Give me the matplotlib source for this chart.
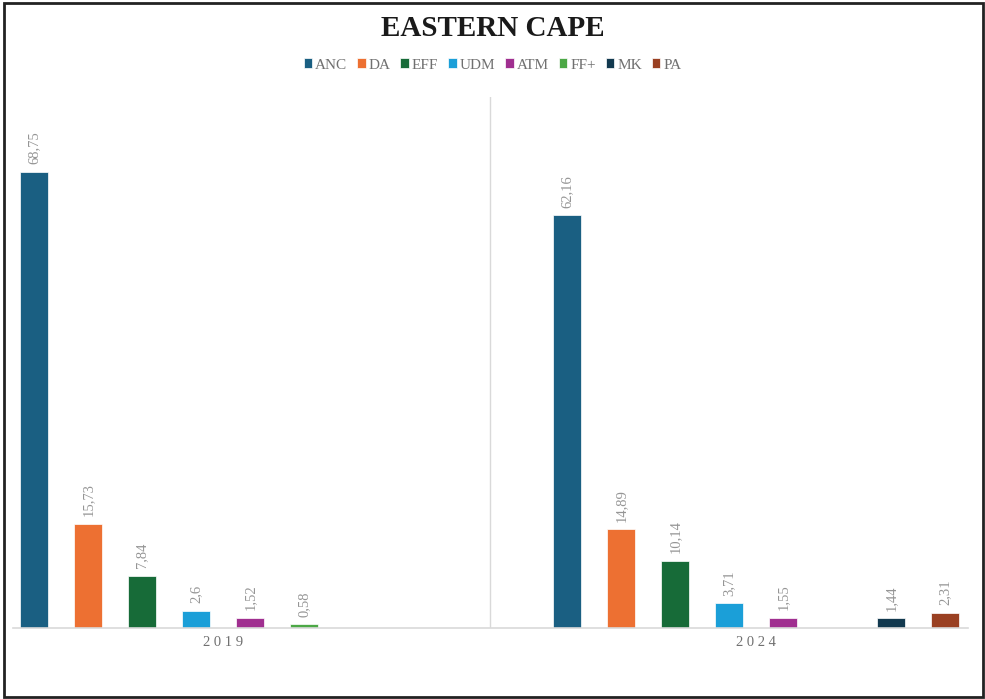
import numpy as np
import matplotlib.pyplot as plt
from matplotlib.patches import Rectangle

plt.rcParams['font.family'] = ['Liberation Serif', 'DejaVu Serif']

years = ['2019', '2024']
parties = ['ANC', 'DA', 'EFF', 'UDM', 'ATM', 'FF+', 'MK', 'PA']
colors = ['#1a5f82', '#ed7032', '#176b38', '#1b9fd8', '#a02f90', '#4ca846', '#12394f', '#9a4022']
# None = party not on the ballot that year
votes_2019 = [68.75, 15.73, 7.84, 2.6, 1.52, 0.58, None, None]
votes_2024 = [62.16, 14.89, 10.14, 3.71, 1.55, None, 1.44, 2.31]

fig = plt.figure(figsize=(9.85, 6.99), dpi=100)
ax = fig.add_axes([13 / 985, 1 - 628 / 699, (968 - 13) / 985, (628 - 97) / 699])

step = 54 / 533
width = 28 / 533
x = np.arange(len(years))
for i, (p, c) in enumerate(zip(parties, colors)):
    vals = [votes_2019[i], votes_2024[i]]
    xs = [x[j] + (i - 3.5) * step for j in range(2) if vals[j] is not None]
    hs = [v for v in vals if v is not None]
    bars = ax.bar(xs, hs, width, color=c, label=p, edgecolor='white', linewidth=0.5)
    for b, v in zip(bars, hs):
        ax.annotate(str(v).replace('.', ','), (b.get_x() + b.get_width() / 2, v),
                    xytext=(0, 5.5), textcoords='offset points', rotation=90,
                    ha='center', va='bottom', fontsize=10.5, color='#959595')

ax.set_xlim((13 - 223) / 533, (968 - 223) / 533)
ax.set_ylim(0, 80)
ax.axvline(0.5, color='#d9d9d9', lw=1)
for s in ['top', 'right', 'left']:
    ax.spines[s].set_visible(False)
ax.spines['bottom'].set_color('#d9d9d9')
ax.spines['bottom'].set_linewidth(1.2)
ax.set_yticks([])
ax.set_xticks(x)
ax.set_xticklabels(['2 0 1 9', '2 0 2 4'], fontsize=10.5, color='#707070')
ax.tick_params(axis='x', length=0, pad=6)

fig.text(0.5, 1 - 29 / 699, 'EASTERN CAPE', ha='center', va='center',
         fontsize=21, fontweight='bold', color='#1a1a1a')
fig.legend(loc='center', bbox_to_anchor=(0.5, 1 - 65 / 699), ncol=8, frameon=False,
           fontsize=11, handlelength=0.55, handleheight=0.55, handletextpad=0.2,
           columnspacing=0.65, labelcolor='#707070')

fig.add_artist(Rectangle((4 / 985, 2 / 699), 979 / 985, 694 / 699, transform=fig.transFigure,
                         fill=False, edgecolor='#222222', lw=2))

fig.savefig('out.png', dpi=100)
